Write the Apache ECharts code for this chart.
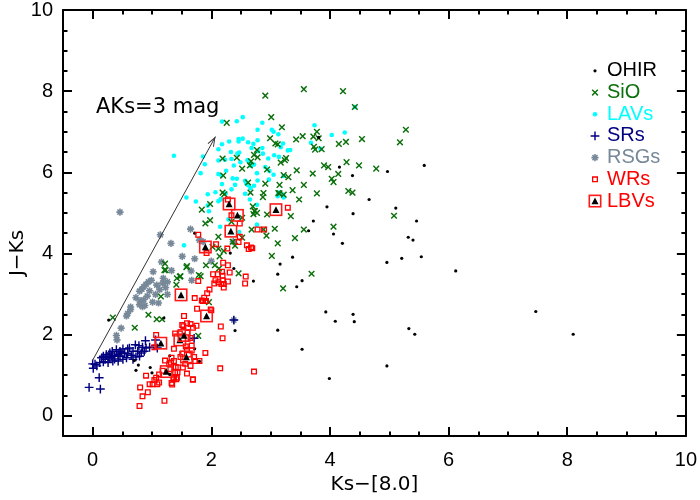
<!DOCTYPE html>
<html><head><meta charset="utf-8">
<script src="https://cdn.jsdelivr.net/npm/echarts@6/dist/echarts.min.js"></script>
<style>html,body{margin:0;padding:0;background:#fff}#c{width:700px;height:500px}</style>
</head><body><div id="c"></div>
<script>
// ---------- data ----------
const xTicks = [0, 2, 4, 6, 8, 10];
const yTicks = [0, 2, 4, 6, 8, 10];
const xName = 'Ks\u2212[8.0]';
const yName = 'J\u2212Ks';
const seriesNames = ['OHIR', 'SiO', 'LAVs', 'SRs', 'RSGs', 'WRs', 'LBVs'];

const ohir = [[3.81,6.86],[4.16,6.13],[5.59,6.17],[4.38,5.92],[4.97,6.02],[4.66,5.33],[3.95,5.15],[5.11,5.12],[4.39,4.98],[3.72,4.80],[5.46,4.80],[3.64,4.56],[4.06,4.48],[4.21,4.25],[5.32,4.40],[5.40,4.33],[3.37,3.91],[3.16,3.74],[3.12,3.49],[3.53,3.33],[3.44,3.18],[4.96,3.78],[5.21,3.88],[5.54,3.92],[6.12,3.57],[3.93,2.56],[4.09,2.33],[4.39,2.50],[4.41,2.32],[5.33,2.15],[5.43,2.01],[3.12,2.11],[3.53,1.64],[4.96,1.23],[3.99,0.92],[7.47,2.57],[8.10,2.01],[1.72,4.50],[2.32,4.01],[2.38,3.63],[2.71,3.32],[0.27,2.36],[1.20,2.41],[2.40,2.10],[0.70,1.36],[0.77,1.25],[0.73,1.12],[0.97,1.19],[1.00,1.06],[1.30,1.48],[1.72,1.65],[1.80,1.34],[1.30,1.02]];

const sio = [[3.56,8.05],[4.22,8.00],[4.42,7.61],[5.28,7.05],[5.18,6.74],[3.19,7.11],[3.43,6.81],[3.54,6.89],[3.72,6.88],[3.78,7.00],[3.81,6.84],[4.54,6.82],[4.27,6.75],[4.15,6.70],[3.73,6.63],[3.75,6.56],[3.86,6.57],[3.26,6.35],[3.24,6.30],[3.17,6.24],[3.90,6.17],[3.97,6.13],[4.28,6.25],[4.49,6.17],[4.78,6.09],[3.44,6.05],[3.71,5.97],[4.14,5.96],[3.30,5.88],[4.03,5.84],[4.06,5.76],[3.15,5.69],[3.56,5.69],[3.37,5.56],[3.78,5.48],[4.31,5.54],[4.38,5.50],[3.15,5.48],[3.22,5.45],[3.48,5.33],[3.34,4.92],[5.08,4.93],[3.56,4.59],[4.06,4.66],[3.41,4.38],[3.12,4.25],[3.69,3.50],[3.21,3.14],
[2.91,7.89],[3.01,7.36],[2.26,7.22],[2.99,6.84],[3.08,6.71],[3.12,6.69],[2.77,6.55],[2.72,6.43],[2.78,6.37],[2.67,6.27],[2.65,6.17],[2.19,6.34],[2.43,6.36],[2.94,6.07],[3.22,5.93],[2.66,5.50],[2.88,5.49],[3.13,5.49],[2.19,5.50],[1.98,5.22],[1.84,5.08],[2.73,5.04],[1.98,4.82],[1.90,4.74],[2.34,4.78],[2.68,4.59],[2.88,4.59],[3.07,4.61],[2.93,4.44],[2.12,4.41],
[2.52,6.09],[2.20,5.92],[2.62,5.75],[2.91,5.72],[2.22,5.46],[2.87,5.39],[2.70,5.16],[2.73,5.05],[2.77,5.00],[2.71,4.97],[2.94,4.96],[2.52,4.88],[2.52,4.39],[2.36,4.29],[2.40,4.19],[2.02,4.16],[2.12,4.12],[2.21,4.06],[2.14,3.93],[1.59,3.69],[1.91,3.71],[2.06,3.71],[2.13,3.63],[2.46,3.51],[3.02,3.94],[1.79,3.47],[1.82,3.44],[1.48,3.44],[1.96,2.80],
[1.22,3.75],[1.21,3.59],[1.23,3.59],[1.58,3.66],[1.42,3.39],[1.47,3.43],[1.41,3.23],[1.15,2.94],[0.34,2.42],[0.94,2.49],[0.71,2.17],[1.08,2.38],[1.17,2.38],[1.78,1.97]];

const lavs = [[2.53,7.36],[2.18,7.25],[2.43,7.26],[2.86,7.22],[3.74,7.16],[2.78,7.05],[3.02,7.05],[3.05,7.00],[3.13,6.94],[4.03,6.92],[4.25,6.98],[2.53,6.83],[2.46,6.82],[2.46,6.76],[2.30,6.76],[2.78,6.79],[2.62,6.74],[2.71,6.70],[2.18,6.69],[2.86,6.60],[3.21,6.71],[3.17,6.62],[3.33,6.55],[3.68,6.73],[3.84,6.58],[2.12,6.57],[2.33,6.50],[2.47,6.49],[2.44,6.46],[2.68,6.60],[2.79,6.52],[2.87,6.46],[3.06,6.42],[3.14,6.38],[1.86,6.39],[2.12,6.29],[2.23,6.31],[2.34,6.33],[2.61,6.30],[2.63,6.27],[2.66,6.23],[2.49,6.25],[2.96,6.34],[1.89,6.20],[2.38,6.17],[2.72,6.19],[2.67,6.16],[2.91,6.13],[2.98,6.03],[2.25,6.04],[1.82,5.98],[2.12,5.96],[2.17,5.92],[2.77,5.98],[3.05,5.94],[2.36,5.85],[2.43,5.84],[2.57,5.79],[2.59,5.72],[2.62,5.68],[2.78,5.80],[2.18,5.71],[2.40,5.69],[2.97,5.82],[2.72,5.67],[2.66,5.61],[2.34,5.58],[3.13,5.50],[3.21,5.45],[2.07,5.51],[2.24,5.48],[2.57,5.47],[1.58,5.38],[2.16,5.34],[1.37,6.41],[1.74,5.28],[1.94,5.46],[2.77,4.71],[1.54,4.20],[2.15,4.66],[2.29,4.84],[1.94,5.18],[1.96,5.04],[2.12,5.29],[2.16,5.33],[2.65,5.33],[2.77,5.20],[3.12,5.41],[3.22,5.38],[2.47,4.53],[4.42,7.61],[3.22,5.91],[3.29,6.54]];

const srs = [[0.89,1.85],[1.06,1.87],[0.72,1.75],[0.78,1.73],[0.62,1.67],[0.51,1.65],[0.40,1.63],[0.46,1.59],[0.90,1.67],[0.96,1.69],[1.06,1.73],[1.09,1.67],[0.33,1.59],[0.29,1.55],[0.23,1.51],[0.18,1.47],[0.15,1.43],[0.21,1.39],[0.26,1.45],[0.32,1.47],[0.37,1.49],[0.43,1.51],[0.48,1.55],[0.54,1.55],[0.59,1.53],[0.65,1.49],[0.57,1.43],[0.68,1.39],[0.73,1.45],[0.79,1.47],[0.82,1.55],[0.87,1.59],[0.51,1.39],[0.43,1.35],[0.34,1.35],[0.26,1.31],[0.18,1.33],[0.12,1.31],[0.07,1.23],[0.04,1.27],[0.00,1.28],[0.01,1.17],[0.11,0.94],[-0.06,0.70],[0.13,0.66],[0.29,1.43],[0.37,1.40],[0.46,1.47],[0.59,1.65],[0.68,1.59],[0.76,1.59],[0.84,1.69],[1.71,1.91],[2.38,2.36]];

const rsgs = [[0.46,5.02],[1.14,4.46],[1.32,4.25],[1.51,3.93],[1.16,3.79],[1.33,3.58],[1.02,3.55],[1.19,3.39],[0.99,3.34],[0.94,3.30],[0.90,3.24],[0.83,3.12],[0.79,3.07],[0.96,3.08],[1.13,3.11],[1.23,3.16],[1.06,2.99],[1.26,2.99],[0.73,2.91],[0.80,2.83],[0.86,2.86],[0.88,2.72],[0.79,2.74],[0.84,2.69],[1.01,2.80],[1.11,2.78],[0.64,2.68],[1.65,4.60],[1.72,3.87],[2.00,3.81],[0.64,2.62],[0.59,2.52],[0.57,2.46],[0.48,2.16],[0.40,1.98],[0.41,1.87],[1.80,4.33],[1.86,4.29],[2.37,4.29],[1.66,3.57],[1.67,3.34],[2.38,2.36],[1.18,3.27],[1.26,3.30],[0.92,2.95],[0.86,3.18],[1.08,3.22]];

const wrs = [[2.48,4.74],[3.29,5.13],[2.78,4.59],[2.89,4.59],[2.48,4.41],[2.46,4.28],[2.60,4.20],[2.67,4.15],[2.63,4.11],[2.69,4.13],[2.08,4.23],[1.78,4.46],[2.27,4.12],[1.92,4.01],[2.20,3.77],[2.28,3.71],[2.31,3.53],[2.18,3.55],[2.11,3.49],[2.03,3.49],[2.07,3.34],[2.05,3.26],[2.19,3.45],[2.19,3.34],[2.12,3.29],[2.17,3.25],[2.21,3.25],[2.28,3.31],[2.21,3.16],[2.58,3.43],[2.57,3.26],[1.78,3.32],[1.97,3.11],[1.93,3.02],[1.72,2.90],[1.84,2.84],[1.90,2.83],[1.88,2.91],[1.99,2.62],[1.54,2.46],[2.16,2.20],[2.19,1.91],[1.53,2.21],[1.59,2.28],[1.65,2.26],[1.69,2.17],[1.75,2.22],[1.39,2.03],[1.47,2.03],[1.07,1.99],[1.04,1.69],[1.37,1.65],[1.90,1.55],[1.80,1.35],[2.15,1.17],[2.72,1.09],[1.22,1.36],[1.29,1.27],[1.31,1.15],[1.18,1.11],[1.12,1.02],[1.07,0.94],[1.04,0.88],[0.90,0.99],[0.96,0.78],[1.01,0.78],[1.09,0.78],[1.12,0.82],[1.33,0.81],[1.36,0.90],[1.42,0.94],[1.43,1.07],[1.40,1.20],[1.37,1.35],[1.33,1.43],[1.69,0.89],[0.80,0.70],[0.93,0.58],[0.84,0.48],[1.21,0.37],[0.79,0.24],[1.76,2.64],[2.00,2.60],[1.86,2.83],[1.91,2.83],[1.51,2.24],[1.57,1.71],[1.67,1.73],[1.59,1.63],[1.67,1.61],[1.51,1.53],[1.48,1.45],[1.62,1.51],[1.71,1.45],[1.73,1.35],[1.56,1.28],[1.65,1.23],[1.52,1.19],[1.59,1.04],[1.69,0.90],[1.39,1.07],[1.37,0.94],[1.34,0.77],[1.41,0.90],[1.44,1.19],[1.32,1.31],[2.34,4.94],[2.28,5.33],[1.60,2.05],[1.65,1.92]];

const lbvs = [[2.30,5.22],[2.44,4.94],[3.09,5.08],[2.33,4.55],[1.90,4.16],[1.49,2.98],[1.92,2.46],[1.15,1.79],[1.47,1.87],[1.54,1.98],[1.58,1.45],[1.24,1.09]];

const arrowStart = [0.0, 1.37];
const arrowEnd = [2.07, 6.88];
const arrowLabel = 'AKs=3 mag';

// ---------- styling ----------
const FONT = '"Liberation Sans", Arial, Helvetica, sans-serif';
const FONT2 = '"DejaVu Sans", Verdana, sans-serif';
const colors = ['#000000', '#0b700b', '#00ffff', '#000080', '#778899', '#ff0000', '#ff0000'];
const PAD = ' M-7,-7 L-7,-7 M7,7 L7,7';
function f(v) { return v.toFixed(3); }
function starPath(n, L, w, rot) {
  const pts = [];
  const rin = w / Math.sin(Math.PI / n);
  for (let k = 0; k < n; k++) {
    const t = rot + 2 * Math.PI * k / n;
    const ux = Math.cos(t), uy = Math.sin(t), vx = -uy, vy = ux;
    pts.push([L * ux - w * vx, L * uy - w * vy]);
    pts.push([L * ux + w * vx, L * uy + w * vy]);
    const tm = t + Math.PI / n;
    pts.push([rin * Math.cos(tm), rin * Math.sin(tm)]);
  }
  return 'path://M' + pts.map(p => f(p[0]) + ',' + f(p[1])).join(' L') + ' Z' + PAD;
}
function dotPath(r) {
  return 'path://M' + (-r) + ',0 A' + r + ',' + r + ' 0 1 0 ' + r + ',0 A' + r + ',' + r + ' 0 1 0 ' + (-r) + ',0 Z' + PAD;
}
const openSquare = 'path://M-3,-3 L3,-3 L3,3 L-3,3 Z M-1.7,-1.7 L-1.7,1.7 L1.7,1.7 L1.7,-1.7 Z' + PAD;
const lbvSvg = "<svg xmlns='http://www.w3.org/2000/svg' width='56' height='56' viewBox='0 0 28 28'>" +
  "<rect x='2.6' y='2.6' width='22.8' height='22.8' fill='none' stroke='#ff1a1a' stroke-width='3.2'/>" +
  "<polygon points='14,7 21,20.5 7,20.5' fill='#000'/></svg>";
const lbvSymbol = 'image://data:image/svg+xml;charset=utf-8,' + encodeURIComponent(lbvSvg);
const symbols = [
  dotPath(1.6),
  starPath(4, 4.0, 0.72, Math.PI / 4),
  dotPath(2.3),
  starPath(4, 4.4, 0.72, 0),
  starPath(8, 3.6, 0.8, 0),
  openSquare,
  lbvSymbol
];
const arrowHead = 'path://M0,0 L3.6,10 L2.7,10.32 L0,2.81 L-2.7,10.32 L-3.6,10 Z M-10,-10 L-10,-10 M10,10 L10,10';

const minorX = [], minorY = [];
for (let i = -1; i <= 20; i++) { const v = i / 2; if (i % 4 !== 0) minorX.push(v); }
for (let i = -1; i <= 20; i++) { const v = i / 2; if (i % 4 !== 0) minorY.push(v); }

function axis(kind, pos, major, labels) {
  const ticks = kind === 'x' ? xTicks : yTicks;
  const minor = kind === 'x' ? minorX : minorY;
  return {
    type: 'value', min: -0.5, max: 10, position: pos, offset: 0,
    axisLine: { show: major, onZero: false, lineStyle: { color: '#000', width: 2 } },
    axisTick: { show: true, inside: true, length: major ? 9 : 4.5,
      lineStyle: { color: '#000', width: 2 }, customValues: major ? ticks : minor },
    axisLabel: { show: labels, customValues: ticks, color: '#000', fontSize: 20,
      fontFamily: FONT, margin: kind === 'x' ? 14 : 10 },
    splitLine: { show: false }, minorTick: { show: false }
  };
}
const xAxes = [axis('x', 'bottom', true, true), axis('x', 'bottom', false, false),
               axis('x', 'top', true, false), axis('x', 'top', false, false)];
xAxes[0].name = xName;
xAxes[0].nameLocation = 'middle';
xAxes[0].nameGap = 37;
xAxes[0].nameTextStyle = { fontSize: 20, color: '#000', fontFamily: FONT2 };
const yAxes = [axis('y', 'left', true, true), axis('y', 'left', false, false),
               axis('y', 'right', true, false), axis('y', 'right', false, false)];

const dataSets = [ohir, sio, lavs, srs, rsgs, wrs, lbvs];
const zs = [5, 4, 2, 4, 3, 6, 7];
const series = seriesNames.map((n, i) => ({
  type: 'scatter', name: n, data: dataSets[i], symbol: symbols[i], symbolSize: 14,
  itemStyle: { color: colors[i], opacity: 1 }, z: zs[i], silent: true,
  xAxisIndex: 0, yAxisIndex: 0, emphasis: { disabled: true }
}));
series.push({
  type: 'line', name: 'reddening', data: [], xAxisIndex: 0, yAxisIndex: 0, silent: true, z: 8,
  markLine: {
    silent: true, animation: false, symbol: ['none', arrowHead], symbolSize: 20,
    lineStyle: { color: '#333', width: 1, type: 'solid' }, label: { show: false },
    emphasis: { disabled: true },
    data: [[{ coord: arrowStart }, { coord: arrowEnd }]]
  }
});

const chart = echarts.init(document.getElementById('c'), null, { renderer: 'canvas' });
chart.setOption({
  animation: false,
  backgroundColor: '#fff',
  grid: { left: 63, right: 7, top: 5, bottom: 60, containLabel: false },
  xAxis: xAxes,
  yAxis: yAxes,
  legend: {
    orient: 'vertical', left: 583, top: 55, itemWidth: 14, itemHeight: 14, itemGap: 0,
    selectedMode: false,
    textStyle: { fontSize: 20, fontFamily: FONT, lineHeight: 21.7, padding: [0, 0, 0, 0] },
    data: seriesNames.map((n, i) => ({ name: n, textStyle: { color: colors[i] } }))
  },
  graphic: [
    { type: 'text', x: 18, y: 253, rotation: Math.PI / 2, silent: true,
      style: { text: yName, fill: '#000', font: '20px ' + FONT2, align: 'center', verticalAlign: 'middle' } },
    { type: 'text', x: 96, y: 108, silent: true,
      style: { text: arrowLabel, fill: '#000', font: '21px ' + FONT2, align: 'left', verticalAlign: 'middle' } }
  ],
  series: series
});
</script></body></html>
